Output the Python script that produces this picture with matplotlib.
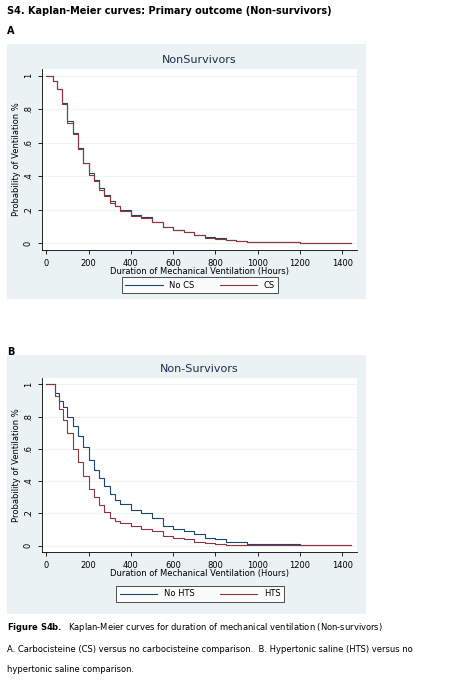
import matplotlib
matplotlib.use("Agg")
import matplotlib.pyplot as plt

tA = [0,20,30,50,75,100,125,150,175,200,225,250,275,300,325,350,400,450,500,550,600,650,700,750,800,850,900,950,1000,1150,1200,1440]
noCS = [1,1,.97,.92,.84,.73,.66,.57,.48,.42,.38,.33,.29,.25,.22,.2,.17,.155,.13,.1,.08,.07,.05,.035,.03,.02,.015,.01,.01,.008,.002,.002]
CS   = [1,1,.97,.92,.83,.72,.65,.56,.48,.41,.37,.32,.28,.24,.22,.19,.165,.15,.13,.095,.078,.068,.05,.033,.028,.018,.014,.01,.009,.007,.002,.002]
tB = [0,20,40,60,80,100,125,150,175,200,225,250,275,300,325,350,400,450,500,550,600,650,700,750,800,850,900,950,1000,1150,1200,1440]
noHTS = [1,1,.95,.9,.86,.8,.74,.68,.61,.53,.47,.42,.37,.32,.28,.26,.22,.2,.17,.12,.105,.09,.07,.05,.04,.025,.02,.012,.012,.01,.002,.002]
HTS   = [1,1,.93,.85,.78,.7,.6,.52,.43,.35,.3,.25,.21,.17,.15,.14,.12,.105,.09,.06,.045,.04,.025,.015,.008,.005,.003,.002,.002,.002,.002,.002]
xticks = [0,200,400,600,800,1000,1200,1400]
yticks = [0,.2,.4,.6,.8,1]
ylabels = ["0",".2",".4",".6",".8","1"]

W, H = 461, 680
fig = plt.figure(figsize=(W/100, H/100), dpi=100)
BG = "#eaf2f3"; NAVY = "#1a476f"; MAROON = "#90353b"
def fx(x): return x/W
def fy(y): return 1 - y/H

fig.text(fx(7), fy(11), "S4. Kaplan-Meier curves: Primary outcome (Non-survivors)", fontsize=7, fontweight="bold", va="center")
fig.text(fx(7), fy(31), "A", fontsize=7, fontweight="bold", va="center")
fig.text(fx(7), fy(352), "B", fontsize=7, fontweight="bold", va="center")

def panel(bg_top, bg_bot, ax_top, ax_bot, title, t, s1, s2, labs, leg_y):
    bg = fig.add_axes([fx(7), fy(bg_bot), fx(366)-fx(7), fy(bg_top)-fy(bg_bot)], zorder=-1)
    bg.set_facecolor(BG); bg.set_xticks([]); bg.set_yticks([])
    for s in bg.spines.values(): s.set_visible(False)
    ax = fig.add_axes([fx(42), fy(ax_bot), fx(357)-fx(42), fy(ax_top)-fy(ax_bot)], zorder=1)
    ax.set_facecolor("white")
    ax.step(t, s1, where="post", color=NAVY, lw=0.8, label=labs[0])
    ax.step(t, s2, where="post", color=MAROON, lw=0.8, label=labs[1])
    ax.set_xlim(-20, 1470); ax.set_ylim(-0.04, 1.04)
    ax.set_xticks(xticks); ax.set_yticks(yticks); ax.set_yticklabels(ylabels, rotation=90, va="center")
    ax.tick_params(labelsize=6, length=3, width=0.6)
    ax.grid(axis="y", color="#eaf2f3", lw=0.6)
    for s in ["top", "right"]: ax.spines[s].set_visible(False)
    for s in ["left", "bottom"]: ax.spines[s].set_linewidth(0.6)
    ax.set_title(title, fontsize=8, color="#1e2d50", pad=4)
    ax.set_xlabel("Duration of Mechanical Ventilation (Hours)", fontsize=6, labelpad=-1)
    ax.set_ylabel("Probability of Ventilation %", fontsize=6, labelpad=2)
    leg = ax.legend(loc="center", bbox_to_anchor=(fx(200), fy(leg_y)), bbox_transform=fig.transFigure,
                    ncol=2, fontsize=6, frameon=True, fancybox=False, edgecolor="black",
                    handlelength=4.5, columnspacing=3)
    leg.get_frame().set_linewidth(0.6)

panel(44, 299, 69, 250, "NonSurvivors", tA, noCS, CS, ("No CS", "CS"), 285)
panel(355, 614, 378, 552, "Non-Survivors", tB, noHTS, HTS, ("No HTS", "HTS"), 594)

fig.text(fx(7), fy(628), r"$\bf{Figure\ S4b.}$  Kaplan-Meier curves for duration of mechanical ventilation (Non-survivors)", fontsize=6, va="center")
fig.text(fx(7), fy(649), "A. Carbocisteine (CS) versus no carbocisteine comparison.  B. Hypertonic saline (HTS) versus no", fontsize=6, va="center")
fig.text(fx(7), fy(669), "hypertonic saline comparison.", fontsize=6, va="center")
fig.savefig("out.png", dpi=100)
